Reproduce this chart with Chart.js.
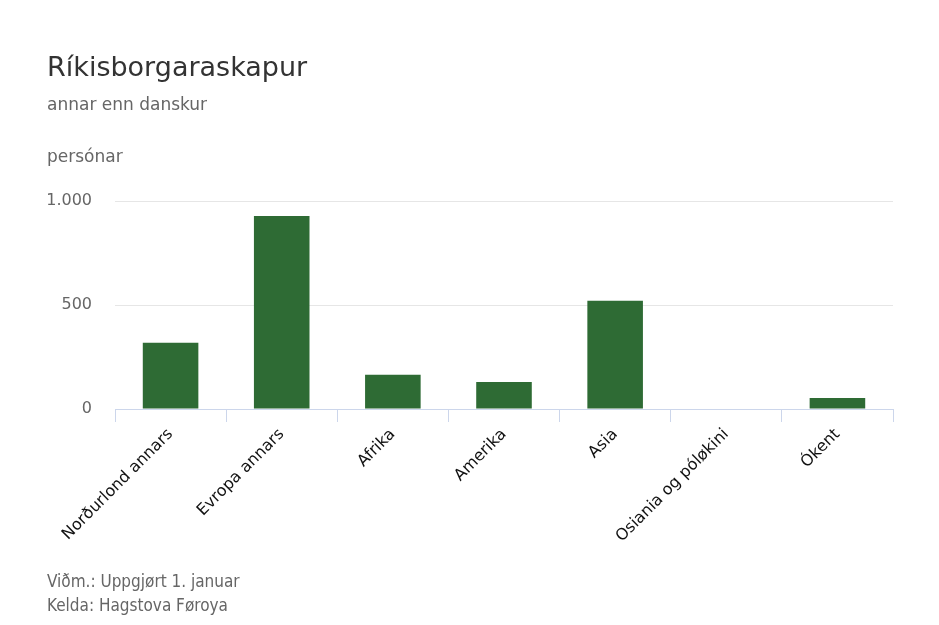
<!DOCTYPE html>
<html lang="fo">
<head>
  <meta charset="UTF-8">
  <title>Ríkisborgaraskapur</title>
  <script src="https://cdn.jsdelivr.net/npm/chart.js"></script>
  <style>
    body {
      margin: 0;
      background: #ffffff;
      font-family: "DejaVu Sans", Verdana, sans-serif;
    }
    .wrap {
      position: relative;
      width: 939px;
      height: 625px;
      overflow: hidden;
    }
    .wrap canvas {
      position: absolute;
      left: 0;
      top: 0;
    }
    .txt {
      position: absolute;
      left: 47px;
      white-space: nowrap;
      line-height: 1;
    }
    #title { top: 53px; font-size: 27px; color: #333333; }
    #subtitle { top: 96px; font-size: 17px; color: #666666; }
    #ytitle { top: 148px; font-size: 17px; color: #666666; }
    .foot {
      font-family: "DejaVu Sans Condensed", "Liberation Sans Narrow", sans-serif;
      font-size: 17px;
      color: #666666;
    }
    #note { top: 573px; }
    #source { top: 597px; }
  </style>
</head>
<body>
  <div class="wrap">
    <canvas id="chart" width="939" height="625"></canvas>
    <div class="txt" id="title">Ríkisborgaraskapur</div>
    <div class="txt" id="subtitle">annar enn danskur</div>
    <div class="txt" id="ytitle">persónar</div>
    <div class="txt foot" id="note">Viðm.: Uppgjørt 1. januar</div>
    <div class="txt foot" id="source">Kelda: Hagstova Føroya</div>
  </div>

  <script>
    // data
    const categories = ['Norðurlond annars', 'Evropa annars', 'Afrika', 'Amerika', 'Asia', 'Osiania og póløkini', 'Ókent'];
    const persons = [318, 928, 165, 130, 520, 2, 53];
    const yTicks = [0, 500, 1000];

    const fmt = v => v.toLocaleString('de-DE');

    const ctx = document.getElementById('chart').getContext('2d');
    new Chart(ctx, {
      type: 'bar',
      data: {
        labels: categories,
        datasets: [{
          label: 'persónar',
          data: persons,
          backgroundColor: '#2e6b34',
          borderWidth: 0,
          barPercentage: 0.5,
          categoryPercentage: 1.0
        }]
      },
      options: {
        responsive: false,
        animation: false,
        layout: { padding: { left: 0, right: 46, top: 201, bottom: 0 } },
        plugins: {
          legend: { display: false },
          tooltip: { enabled: false }
        },
        scales: {
          x: {
            afterFit: s => { s.height = 216; },
            grid: {
              offset: true,
              drawOnChartArea: false,
              drawTicks: true,
              tickLength: 13,
              color: '#ccd6eb'
            },
            border: { color: '#ccd6eb' },
            ticks: {
              autoSkip: false,
              minRotation: 45,
              maxRotation: 45,
              padding: 3,
              color: '#111111',
              font: { family: '"DejaVu Sans", sans-serif', size: 16 }
            }
          },
          y: {
            min: 0,
            max: 1000,
            afterFit: s => { s.width = 115; },
            afterBuildTicks: s => { s.ticks = yTicks.map(v => ({ value: v })); },
            border: { display: false },
            grid: { color: '#e6e6e6', drawTicks: false },
            ticks: {
              padding: 23,
              color: '#666666',
              font: { family: '"DejaVu Sans", sans-serif', size: 16 },
              callback: v => fmt(v)
            }
          }
        }
      }
    });
  </script>
</body>
</html>
